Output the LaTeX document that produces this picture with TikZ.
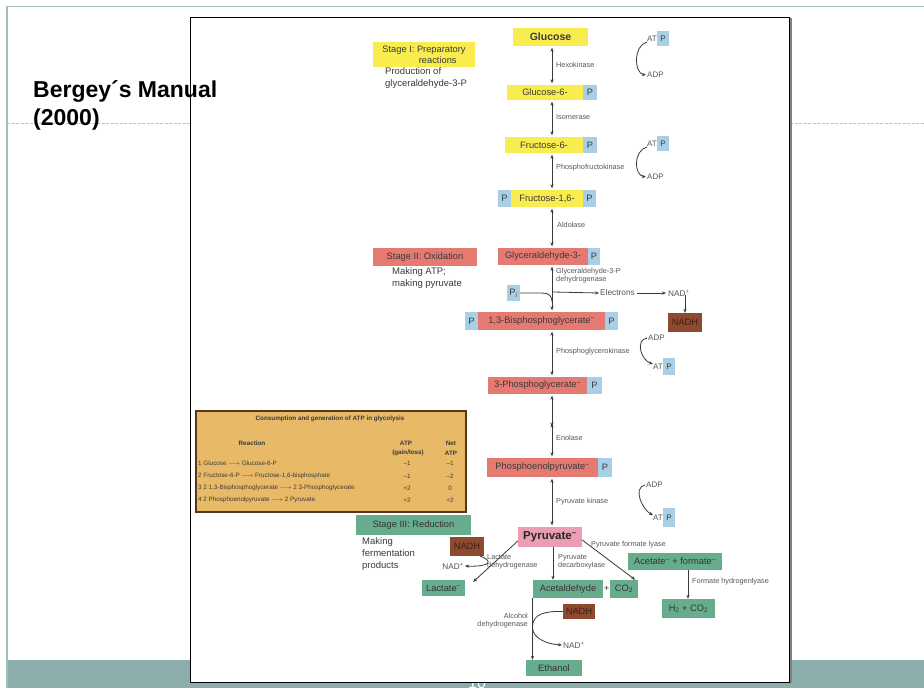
\documentclass[tikz,border=0pt]{standalone}
\usepackage{fontspec}
\setmainfont{Liberation Sans}
\usetikzlibrary{arrows.meta}

\definecolor{frameline}{HTML}{A3BFBD}
\definecolor{dashcol}{HTML}{B3C8C7}
\definecolor{band}{HTML}{8BADAC}
\definecolor{yel}{HTML}{F8EC4E}
\definecolor{pbl}{HTML}{A9CFE6}
\definecolor{sal}{HTML}{E57A72}
\definecolor{pnk}{HTML}{EB9DB4}
\definecolor{grn}{HTML}{68AC8E}
\definecolor{brn}{HTML}{8E4A30}
\definecolor{tanc}{HTML}{E8BA68}
\definecolor{ink}{HTML}{3A3A3A}

% box given by its corners: style, x1, y1, x2, y2, name
\newcommand\boxat[6]{\node[#1, minimum width={#4-#2}, minimum height={#5-#3}] (#6) at ({(#2+#4)/2},{(#3+#5)/2})}

\begin{document}
\begin{tikzpicture}[x=1pt,y=-1pt,
  box/.style={rectangle, inner sep=0pt, text=ink, font=\fontsize{9.3}{10}\selectfont},
  ybox/.style={box, fill=yel},
  pb/.style={box, fill=pbl},
  sbox/.style={box, fill=sal},
  gbox/.style={box, fill=grn, text=black!80},
  nbox/.style={box, fill=brn, text=brn!45!black},
  lab/.style={inner sep=0pt, text=ink!85, font=\fontsize{7.3}{8.5}\selectfont, align=left},
  txt/.style={inner sep=0pt, text=ink, font=\fontsize{9.5}{12}\selectfont, align=left},
  tab/.style={inner sep=0pt, text=ink, font=\fontsize{6.3}{7}\selectfont},
  arr/.style={-{Stealth[length=4pt,width=3.2pt]}, line width=0.8pt, draw=ink},
  darr/.style={{Stealth[length=4pt,width=3.2pt]}-{Stealth[length=4pt,width=3.2pt]}, line width=0.8pt, draw=ink, shorten <=1.5pt, shorten >=1.5pt},
  cur/.style={line width=0.8pt, draw=ink},
]
\useasboundingbox (0,0) rectangle (924,688);
\fill[white] (0,0) rectangle (924,688);

% slide frame, rule and footer band
\fill[band] (7,660) rectangle (924,688);
\draw[frameline, line width=1.5pt] (7,688) -- (7,6.5) -- (924,6.5);
\draw[dashcol, line width=1.2pt, dash pattern=on 3pt off 1.5pt] (7,123.5) -- (924,123.5);
\node[white, inner sep=0pt, anchor=north, font=\fontsize{16}{16}\selectfont] (num) at (477,677) {10};

% figure panel
\draw[black, line width=1pt, fill=white] (190.5,17.5) rectangle (789.5,682);
\draw[gray, line width=2pt] (790.5,18) -- (790.5,683);

\coordinate (ax) at (552,0);

% ---------- Stage I ----------
\boxat{ybox, font=\fontsize{10.5}{11}\selectfont\bfseries}{513}{28}{588}{46}{glc} {Glucose};
\boxat{ybox, align=right, font=\fontsize{9.3}{11}\selectfont}{373}{42}{475}{67}{st1} {Stage I: Preparatory\\reactions\hspace*{9pt}};
\node[txt, anchor=north west] (prod) at (385,67) {Production of\\glyceraldehyde-3-P};

\boxat{ybox}{507}{85}{583}{100}{g6p} {Glucose-6-};
\boxat{pb}{583}{85}{597}{100}{g6pP} {P};

\boxat{ybox}{505}{137}{583}{153}{f6p} {Fructose-6-};
\boxat{pb}{583}{137}{597}{153}{f6pP} {P};

\boxat{pb}{498}{190}{511}{207}{fbpPa} {P};
\boxat{ybox}{511}{190}{583}{207}{fbp} {Fructose-1,6-};
\boxat{pb}{583}{190}{596}{207}{fbpPb} {P};

\draw[darr] (glc.south -| ax) -- (g6p.north -| ax);
\node[lab, anchor=west] (hk) at (556,65) {Hexokinase};
\draw[darr] (g6p.south -| ax) -- (f6p.north -| ax);
\node[lab, anchor=west] (iso) at (556,117) {Isomerase};
\draw[darr] (f6p.south -| ax) -- (fbp.north -| ax);
\node[lab, anchor=west] (pfk) at (556,168) {Phosphofructokinase};

% ATP -> ADP (hexokinase)
\node[lab, anchor=east, font=\fontsize{8}{9}\selectfont] (at1) at (657,39) {AT};
\boxat{pb, font=\fontsize{8}{9}\selectfont}{657}{31}{669}{46}{at1P} {P};
\node[lab, anchor=west, font=\fontsize{8}{9}\selectfont] (adp1) at (647,75) {ADP};
\draw[arr] (at1.south west) .. controls +(-14,4) and +(-12,-2) .. ([xshift=-1pt]adp1.west);

% ATP -> ADP (phosphofructokinase)
\node[lab, anchor=east, font=\fontsize{8}{9}\selectfont] (at2) at (657,144) {AT};
\boxat{pb, font=\fontsize{8}{9}\selectfont}{657}{136}{669}{151}{at2P} {P};
\node[lab, anchor=west, font=\fontsize{8}{9}\selectfont] (adp2) at (647,177) {ADP};
\draw[arr] (at2.south west) .. controls +(-14,4) and +(-12,-2) .. ([xshift=-1pt]adp2.west);

% ---------- Stage II ----------
\boxat{sbox}{498}{248}{588}{265}{g3p} {Glyceraldehyde-3-};
\boxat{pb}{588}{248}{600}{265}{g3pP} {P};
\boxat{sbox}{373}{248}{477}{266}{st2} {Stage II: Oxidation};
\node[txt, anchor=north west] (mk2) at (392,267) {Making ATP;\\making pyruvate};

\draw[darr] (fbp.south -| ax) -- (g3p.north -| ax);
\node[lab, anchor=west] (ald) at (557,225) {Aldolase};

\boxat{pb}{465}{312}{478}{330}{bpgPa} {P};
\boxat{sbox}{478}{312}{605}{330}{bpg} {1,3-Bisphosphoglycerate\textsuperscript{–}};
\boxat{pb}{605}{312}{618}{330}{bpgPb} {P};

\draw[darr] (g3p.south -| ax) -- (bpg.north -| ax);
\node[lab, anchor=north west] (gapdh) at (556,268) {Glyceraldehyde-3-P\\dehydrogenase};

\boxat{pb}{507}{285}{520}{301}{pi} {P\textsubscript{i}};
\coordinate (pij) at (552,302);
\draw[cur] (pi.east) -- (542,293) .. controls (548,293) and (552,295) .. (pij);
\coordinate (ej) at (553,292);
\node[lab, anchor=west, font=\fontsize{8.3}{9}\selectfont] (elec) at (600,293) {Electrons};
\node[lab, anchor=west, font=\fontsize{8.3}{9}\selectfont] (nadp1) at (668,293) {NAD\textsuperscript{+}};
\boxat{nbox}{668}{313}{702}{332}{nadh1} {NADH};
\draw[arr] (ej) -- ([xshift=-1pt]elec.west);
\draw[arr] ([xshift=2pt]elec.east) -- ([xshift=-2pt]nadp1.west);
\draw[arr] ([yshift=1pt]nadp1.south -| nadh1.north) -- (nadh1.north);

\boxat{sbox}{488}{377}{587}{394}{pg3} {3-Phosphoglycerate\textsuperscript{–}};
\boxat{pb}{587}{377}{602}{394}{pg3P} {P};
\draw[darr] (bpg.south -| ax) -- (pg3.north -| ax);
\node[lab, anchor=west] (pgk) at (556,352) {Phosphoglycerokinase};

\node[lab, anchor=west, font=\fontsize{8}{9}\selectfont] (adp3) at (648,338) {ADP};
\node[lab, anchor=east, font=\fontsize{8}{9}\selectfont] (at3) at (663,367) {AT};
\boxat{pb, font=\fontsize{8}{9}\selectfont}{663}{358}{675}{375}{at3P} {P};
\draw[arr] ([xshift=-1pt]adp3.west) .. controls +(-12,2) and +(-12,-4) .. (at3.north west);

\boxat{sbox}{487}{458}{598}{477}{pep} {Phosphoenolpyruvate\textsuperscript{–}};
\boxat{pb}{598}{458}{612}{477}{pepP} {P};
\coordinate (mid) at (552,425);
\draw[darr] (pg3.south -| ax) -- ([yshift=-3pt]mid);
\draw[darr] ([yshift=3pt]mid) -- (pep.north -| ax);
\node[lab, anchor=west] (eno) at (556,438) {Enolase};

\boxat{box, fill=pnk, font=\fontsize{11.5}{12}\selectfont\bfseries, text=black!85}{518}{527}{582}{547}{pyr} {Pyruvate\textsuperscript{–}};
\draw[darr] (pep.south -| ax) -- (pyr.north -| ax);
\node[lab, anchor=west] (pk) at (556,502) {Pyruvate kinase};

\node[lab, anchor=west, font=\fontsize{8}{9}\selectfont] (adp4) at (646,485) {ADP};
\node[lab, anchor=east, font=\fontsize{8}{9}\selectfont] (at4) at (663,518) {AT};
\boxat{pb, font=\fontsize{8}{9}\selectfont}{663}{508}{675}{527}{at4P} {P};
\draw[arr] ([xshift=-1pt]adp4.west) .. controls +(-13,3) and +(-10,-5) .. (at4.north west);

% ---------- ATP balance table ----------
\boxat{box, fill=tanc, draw=black!55!brown, line width=1.2pt}{196}{411}{466}{512}{tbl} {};
\node[tab, font=\fontsize{6.3}{7}\selectfont\bfseries] (ttl) at (330,419) {Consumption and generation of ATP in glycolysis};
\node[tab, font=\fontsize{6.3}{7}\selectfont\bfseries] (hr) at (252,443) {Reaction};
\node[tab, font=\fontsize{6.3}{7}\selectfont\bfseries] (ha) at (406,443) {ATP};
\node[tab, font=\fontsize{6.3}{7}\selectfont\bfseries] (hb) at (408,453) {(gain/loss)};
\node[tab, font=\fontsize{6.3}{7}\selectfont\bfseries] (hc) at (451,443) {Net};
\node[tab, font=\fontsize{6.3}{7}\selectfont\bfseries] (hd) at (451,453) {ATP};
\node[tab, anchor=west] (r1) at (198,463) {1 Glucose $\longrightarrow$ Glucose-6-P};
\node[tab, anchor=west] (r2) at (198,476) {2 Fructose-6-P $\longrightarrow$ Fructose-1,6-bisphosphate};
\node[tab, anchor=west] (r3) at (198,488) {3 2 1,3-Bisphosphoglycerate $\longrightarrow$ 2 3-Phosphoglycerate};
\node[tab, anchor=west] (r4) at (198,500) {4 2 Phosphoenolpyruvate $\longrightarrow$ 2 Pyruvate};
\node[tab] (a1) at (407,463) {–1}; \node[tab] (n1) at (450,463) {–1};
\node[tab] (a2) at (407,476) {–1}; \node[tab] (n2) at (450,476) {–2};
\node[tab] (a3) at (407,488) {+2}; \node[tab] (n3) at (450,488) {0};
\node[tab] (a4) at (407,500) {+2}; \node[tab] (n4) at (450,500) {+2};

% ---------- Stage III ----------
\boxat{gbox}{356}{515}{471}{535}{st3} {Stage III: Reduction};
\node[txt, anchor=north west] (mk3) at (362,537) {Making\\fermentation\\products};
\boxat{nbox}{450}{537}{484}{556}{nadh2} {NADH};
\boxat{gbox}{422}{580}{465}{596}{lac} {Lactate\textsuperscript{–}};
\node[lab, font=\fontsize{8.3}{9}\selectfont] (nadl) at (453,566) {NAD\textsuperscript{+}};
\draw[arr] ([yshift=-4pt]pyr.west) -- ([xshift=8pt,yshift=-2pt]lac.north east);
\draw[arr] ([xshift=-4pt]nadh2.south east) .. controls (494,561) and (490,567) .. ([xshift=1pt]nadl.east);
\node[lab, anchor=north west] (ldh) at (487,554) {Lactate\\dehydrogenase};

\boxat{gbox}{533}{580}{603}{598}{acald} {Acetaldehyde};
\node[box] (plus) at (606.5,589) {+};
\boxat{gbox}{610}{580}{638}{598}{co2} {CO\textsubscript{2}};
\coordinate (dc) at (553,0);
\draw[arr] (pyr.south -| dc) -- (acald.north -| dc);
\node[lab, anchor=north west] (pdc) at (558,554) {Pyruvate\\decarboxylase};

\boxat{gbox}{628}{553}{722}{570}{acf} {Acetate\textsuperscript{–} + formate\textsuperscript{–}};
\draw[arr] ([yshift=-3pt]pyr.east) -- ([xshift=-3pt]co2.north east);
\node[lab, anchor=west] (pfl) at (591,545) {Pyruvate formate lyase};

\boxat{gbox}{662}{599}{715}{618}{h2} {H\textsubscript{2} + CO\textsubscript{2}};
\coordinate (fh) at (688,0);
\draw[arr] (acf.south -| fh) -- (h2.north -| fh);
\node[lab, anchor=west] (fhl) at (692,582) {Formate hydrogenlyase};

\boxat{nbox}{563}{604}{595}{619}{nadh3} {NADH};
\boxat{gbox}{526}{660}{582}{676}{eth} {Ethanol};
\node[lab, anchor=west, font=\fontsize{8.3}{9}\selectfont] (nade) at (563,645) {NAD\textsuperscript{+}};
\coordinate (al) at (532.5,0);
\draw[arr] (acald.south -| al) -- (eth.north -| al);
\draw[cur] (nadh3.west) .. controls (545,611) and (533,614) .. (532.5,626);
\draw[arr] (532.5,628) .. controls (533,638) and (546,644) .. ([xshift=-1pt]nade.west);
\node[lab, anchor=north east, align=right] (adh) at (528,613) {Alcohol\\dehydrogenase};

% ---------- slide caption ----------
\node[inner sep=0pt, anchor=base west, font=\fontsize{23}{28}\selectfont\bfseries] (cap1) at (33,97) {Bergey´s Manual};
\node[inner sep=0pt, anchor=base west, font=\fontsize{23}{28}\selectfont\bfseries] (cap2) at (33,125) {(2000)};
\end{tikzpicture}
\end{document}
